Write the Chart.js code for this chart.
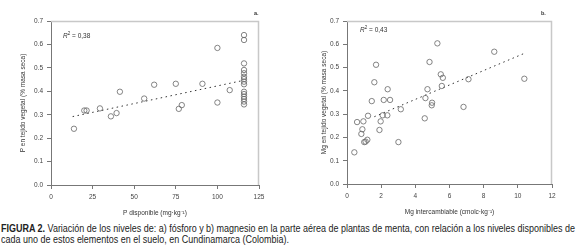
<!DOCTYPE html>
<html><head><meta charset="utf-8">
<script src="https://cdn.jsdelivr.net/npm/chart.js@4"></script>
<style>
html,body{margin:0;padding:0;background:#fff;}
body{width:576px;height:251px;position:relative;overflow:hidden;font-family:"Liberation Sans",Arial,sans-serif;}
.cv{position:absolute;top:0;}
.lbl{position:absolute;font-size:6.5px;color:#333;white-space:nowrap;}
.cap{position:absolute;left:1px;font-size:10px;line-height:11px;color:#222;white-space:nowrap;transform-origin:0 0;}
</style></head><body>
<div class="cv" style="left:0;width:288px;height:220px;"><canvas id="c1"></canvas></div>
<div class="cv" style="left:288px;width:288px;height:220px;"><canvas id="c2"></canvas></div>
<div class="lbl" style="left:63px;top:31px;"><i>R</i><sup style="font-size:4.5px">2</sup> = 0,38</div>
<div class="lbl" style="left:360px;top:25px;"><i>R</i><sup style="font-size:4.5px">2</sup> = 0,43</div>
<div class="lbl" style="left:254px;top:10px;font-size:5.5px;font-weight:bold;">a.</div>
<div class="lbl" style="left:541px;top:10px;font-size:5.5px;font-weight:bold;">b.</div>
<div class="cap" id="cap1" style="top:223px;"><b>FIGURA 2.</b> Variación de los niveles de: a) fósforo y b) magnesio en la parte aérea de plantas de menta, con relación a los niveles disponibles de</div>
<div class="cap" id="cap2" style="top:234px;">cada uno de estos elementos en el suelo, en Cundinamarca (Colombia).</div>
<script>
// Panel a: P disponible (mg/kg) vs P en tejido vegetal (%)
const pDisp = [13.8,20,21.4,29.4,36,39.4,41.4,56,62,75,76.8,78.6,91,100,100,107.4,
  116,116,116,116,116,116,116,116,116,116,116,116,116,116,116];
const pTej  = [0.240,0.318,0.318,0.327,0.293,0.307,0.398,0.369,0.428,0.432,0.325,0.341,0.432,0.585,0.352,0.405,
  0.640,0.619,0.519,0.491,0.477,0.462,0.452,0.441,0.430,0.398,0.388,0.377,0.367,0.356,0.344];
const pTrendX = [13,116];
const pTrendY = [0.292,0.447];
// Panel b: Mg intercambiable (cmolc/kg) vs Mg en tejido vegetal (%)
const mgInt = [0.43,0.59,0.96,0.90,0.84,1.19,1.01,1.09,1.23,1.45,1.60,1.70,1.90,1.97,2.15,2.09,2.36,2.52,2.38,3.01,3.15,
  4.55,4.59,4.71,4.83,4.98,4.96,5.29,5.49,5.61,5.55,6.82,7.11,8.62,10.38];
const mgTej = [0.136,0.266,0.269,0.235,0.215,0.190,0.180,0.182,0.293,0.356,0.437,0.512,0.232,0.269,0.361,0.295,0.295,0.361,0.407,0.180,0.321,
  0.282,0.369,0.407,0.524,0.349,0.338,0.604,0.471,0.456,0.421,0.331,0.450,0.568,0.452];
const mgTrendX = [1.6,10.38];
const mgTrendY = [0.289,0.561];
const yTicks = [0,0.1,0.2,0.3,0.4,0.5,0.6,0.7];

// fit caption lines to the reference width (condensed look)
(function(){const a=document.getElementById('cap1'),b=document.getElementById('cap2');
  const s=574/a.getBoundingClientRect().width;a.style.transform='scaleX('+s+')';b.style.transform='scaleX('+s+')';})();

const frame = {id:'frame',afterDatasetsDraw(ch){const a=ch.chartArea,c=ch.ctx;c.save();c.strokeStyle='#c8c8c8';c.lineWidth=1.5;
  c.beginPath();c.moveTo(a.left,a.top+0.5);c.lineTo(a.right-0.5,a.top+0.5);c.lineTo(a.right-0.5,a.bottom);c.stroke();c.restore();}};

function mk(id,xs,ys,tx,ty,xmax,xstep,xtitle,ytitle,pad,yw){
  const pts = xs.map((x,i)=>({x:x,y:ys[i]}));
  const tr = tx.map((x,i)=>({x:x,y:ty[i]}));
  const font={family:'"Liberation Sans",Arial,sans-serif',size:6.5};
  return new Chart(document.getElementById(id),{
    type:'scatter',
    data:{datasets:[
      {data:pts,pointRadius:2.7,pointBorderWidth:0.8,pointBorderColor:'#666',pointBackgroundColor:'rgba(255,255,255,0)',showLine:false,order:1},
      {data:tr,showLine:true,borderColor:'#333',borderWidth:1,borderDash:[1.5,3.5],pointRadius:0,order:2}
    ]},
    options:{responsive:true,maintainAspectRatio:false,animation:false,
      layout:{padding:pad},
      plugins:{legend:{display:false},tooltip:{enabled:false}},
      scales:{
        x:{type:'linear',min:0,max:xmax,ticks:{stepSize:xstep,color:'#444',font:font,padding:4,maxRotation:0},
          grid:{drawOnChartArea:false,drawTicks:true,tickLength:4,color:'#777'},border:{color:'#777'},
          title:{display:true,text:xtitle,color:'#333',font:font,padding:{top:6,bottom:0}},
          afterFit(s){s.height=32;}},
        y:{type:'linear',min:0,max:0.7,afterBuildTicks(s){s.ticks=yTicks.map(v=>({value:v}));},
          ticks:{color:'#444',font:font,padding:4,callback:v=>v.toFixed(1)},
          grid:{drawOnChartArea:false,drawTicks:true,tickLength:4,color:'#777'},border:{color:'#777'},
          title:{display:true,text:ytitle,color:'#333',font:font,padding:{top:2,bottom:2}},
          afterFit(s){s.width=yw;}}
      }},
    plugins:[frame]
  });
}
mk('c1',pDisp,pTej,pTrendX,pTrendY,125,25,'P disponible (mg·kg⁻¹)','P en tejido vegetal (% masa seca)',{left:17,right:29,top:21,bottom:3},34);
mk('c2',mgInt,mgTej,mgTrendX,mgTrendY,12,2,'Mg intercambiable (cmolc·kg⁻¹)','Mg en tejido vegetal (% masa seca)',{left:30,right:24,top:21,bottom:4},29);
</script>
</body></html>
